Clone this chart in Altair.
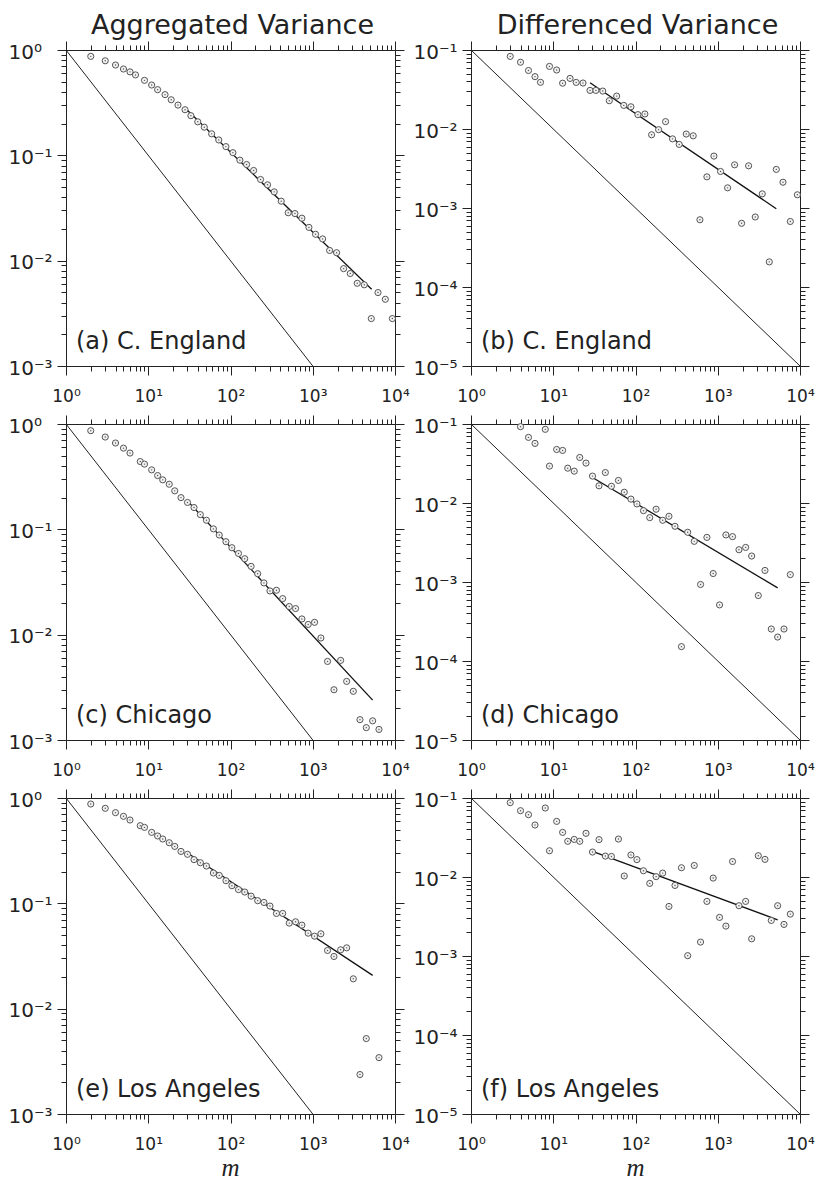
import altair as alt
import pandas as pd

# ---------------- data ----------------
# (a) C. England, aggregated variance
a_m = [2, 3, 4, 5, 6, 7, 9, 11, 13, 16, 19, 23, 28, 33, 40, 48, 59, 72, 88, 107, 130, 157, 191, 232, 282,
       340, 414, 503, 607, 738, 898, 1082, 1318, 1603, 1950, 2372, 2858, 3476, 4232, 5152, 6213, 7627, 9290]
a_v = [0.87, 0.79, 0.72, 0.66, 0.62, 0.58, 0.515, 0.465, 0.42, 0.377, 0.337, 0.30, 0.271, 0.238, 0.208,
       0.185, 0.160, 0.140, 0.121, 0.106, 0.090, 0.0818, 0.0718, 0.059, 0.0525, 0.045, 0.0367, 0.0285,
       0.028, 0.0253, 0.0207, 0.0178, 0.0161, 0.0125, 0.0119, 0.0084, 0.00755, 0.0061, 0.0059, 0.00282,
       0.00498, 0.0043, 0.00282]
a_fit_m = [28, 5200]
a_fit_v = [0.281, 0.00536]

# (b) C. England, differenced variance
b_m = [3, 4, 5, 6, 7, 9, 11, 13, 16, 19, 23, 28, 33, 40, 48, 59, 72, 88, 107, 130, 157, 191, 232, 282,
       340, 414, 503, 607, 738, 898, 1082, 1318, 1603, 1950, 2372, 2858, 3476, 4232, 5152, 6213, 7627, 9290]
b_v = [0.083, 0.070, 0.055, 0.046, 0.039, 0.062, 0.0558, 0.038, 0.0437, 0.0389, 0.0382, 0.0308, 0.0308,
       0.0302, 0.0228, 0.0261, 0.0199, 0.0191, 0.0152, 0.0155, 0.00845, 0.0098, 0.0124, 0.0075, 0.00638,
       0.00863, 0.0082, 0.00071, 0.00248, 0.00454, 0.0029, 0.0018, 0.00352, 0.00064, 0.00342, 0.00077,
       0.00151, 0.000208, 0.00308, 0.00212, 0.000675, 0.00147]
b_fit_m = [28, 5150]
b_fit_v = [0.0385, 0.00098]

# (c) Chicago, aggregated variance
c_m = [2, 3, 4, 5, 6, 8, 9, 11, 13, 15, 18, 21, 25, 30, 36, 43, 51, 62, 73, 88, 104, 125, 149, 178, 214,
       255, 302, 362, 431, 518, 618, 738, 880, 1052, 1256, 1513, 1811, 2183, 2583, 3112, 3750, 4477, 5349, 6386]
c_v = [0.864, 0.752, 0.66, 0.59, 0.53, 0.44, 0.416, 0.367, 0.324, 0.295, 0.268, 0.232, 0.2, 0.18, 0.161,
       0.138, 0.122, 0.101, 0.0883, 0.0763, 0.0669, 0.059, 0.0526, 0.0445, 0.0379, 0.031, 0.026, 0.0264,
       0.022, 0.0185, 0.0177, 0.0141, 0.0125, 0.0131, 0.0093, 0.00557, 0.003, 0.0057, 0.0036, 0.0029,
       0.00156, 0.00131, 0.00152, 0.00126]
c_fit_m = [30, 5350]
c_fit_v = [0.186, 0.00239]

# (d) Chicago, differenced variance
d_m = [4, 5, 6, 8, 9, 11, 13, 15, 18, 21, 25, 30, 36, 43, 51, 62, 73, 88, 104, 125, 149, 178, 214, 255,
       302, 362, 431, 518, 618, 738, 880, 1052, 1256, 1513, 1811, 2183, 2583, 3112, 3750, 4477, 5349, 6386, 7627]
d_v = [0.0925, 0.0677, 0.0568, 0.0856, 0.0293, 0.0476, 0.0463, 0.0276, 0.0253, 0.0377, 0.032, 0.0219,
       0.0165, 0.0243, 0.0163, 0.0193, 0.0137, 0.0112, 0.00974, 0.0080, 0.00653, 0.00834, 0.00604,
       0.00679, 0.00507, 0.000152, 0.00426, 0.00327, 0.00093, 0.00367, 0.00128, 0.000513, 0.00394,
       0.00375, 0.00256, 0.00274, 0.00213, 0.000674, 0.0014, 0.000254, 0.000201, 0.000254, 0.00124]
d_fit_m = [30, 5350]
d_fit_v = [0.021, 0.000843]

# (e) Los Angeles, aggregated variance
e_m = [2, 3, 4, 5, 6, 8, 9, 11, 13, 15, 18, 21, 25, 30, 36, 43, 51, 62, 73, 88, 104, 125, 149, 178, 214,
       255, 302, 362, 431, 518, 618, 738, 880, 1052, 1256, 1513, 1811, 2183, 2583, 3112, 3750, 4477, 6386]
e_v = [0.877, 0.798, 0.726, 0.67, 0.618, 0.546, 0.526, 0.472, 0.436, 0.408, 0.376, 0.347, 0.311, 0.292,
       0.26, 0.243, 0.226, 0.194, 0.184, 0.164, 0.147, 0.135, 0.128, 0.117, 0.106, 0.102, 0.0942, 0.0802,
       0.0802, 0.0649, 0.0668, 0.0621, 0.0521, 0.0488, 0.0514, 0.0357, 0.0313, 0.0362, 0.0378, 0.0192,
       0.00237, 0.0052, 0.00343]
e_fit_m = [30, 5350]
e_fit_v = [0.30, 0.0207]

# (f) Los Angeles, differenced variance
f_m = [3, 4, 5, 6, 8, 9, 11, 13, 15, 18, 21, 25, 30, 36, 43, 51, 62, 73, 88, 104, 125, 149, 178, 214, 255,
       302, 362, 431, 518, 618, 738, 880, 1052, 1256, 1513, 1811, 2183, 2583, 3112, 3750, 4477, 5349, 6386, 7627]
f_v = [0.0873, 0.0691, 0.0615, 0.0455, 0.0747, 0.0215, 0.0506, 0.0367, 0.0283, 0.0299, 0.0283, 0.0357,
       0.0207, 0.0297, 0.0184, 0.0182, 0.0302, 0.0103, 0.019, 0.0166, 0.012, 0.0083, 0.0101, 0.0112,
       0.00424, 0.00782, 0.0131, 0.00101, 0.014, 0.0015, 0.00491, 0.00969, 0.00308, 0.00239, 0.0157,
       0.00433, 0.00491, 0.00165, 0.0186, 0.0167, 0.00282, 0.00433, 0.00251, 0.00339]
f_fit_m = [30, 5350]
f_fit_v = [0.0211, 0.00287]

# slope -1 reference lines
agg_ref_m = [1, 1000]
agg_ref_v = [1, 0.001]
dif_ref_m = [1, 10000]
dif_ref_v = [0.1, 0.00001]

col_titles = ["Aggregated Variance", "Differenced Variance"]
panel_labels = ["(a) C. England", "(b) C. England", "(c) Chicago", "(d) Chicago",
                "(e) Los Angeles", "(f) Los Angeles"]
x_title = "m"

# tick values (1..9 x each decade)
x_ticks = [k * 10.0 ** e for e in range(0, 4) for k in range(1, 10)] + [10000.0]
agg_ticks = [k * 10.0 ** e for e in range(-3, 0) for k in range(1, 10)] + [1.0]
dif_ticks = [k * 10.0 ** e for e in range(-5, -1) for k in range(1, 10)] + [0.1]

# ---------------- styling ----------------
FONT = "DejaVu Sans"
INK = "#222222"
W, H = 329, 316
LOGV = "(log(datum.value)/LN10)"
DEC = f"abs({LOGV} - round({LOGV})) < 1e-6"
LABEL_EXPR = (f"({DEC}) ? ('10' + (round({LOGV}) < 0 ? '\u207b' : '') + "
              f"['\u2070','\u00b9','\u00b2','\u00b3','\u2074','\u2075'][abs(round({LOGV}))]) : ''")
TICK_SIZE = {"condition": {"test": DEC, "value": 9}, "value": 5}


def make_axis(orient, values, labels):
    kw = dict(orient=orient, values=values, grid=False, labels=labels,
              tickSize=TICK_SIZE, tickColor=INK, tickWidth=1,
              domainColor=INK, domainWidth=1)
    if labels:
        kw.update(labelExpr=LABEL_EXPR, labelFont=FONT, labelColor=INK,
                  labelOverlap=False, labelFlush=False, labelBound=False)
        if orient == "left":
            kw.update(labelAlign="left", labelPadding=49, labelFontSize=20, labelOffset=2)
        else:
            kw.update(labelPadding=13, labelFontSize=17)
    return alt.Axis(**kw)


def panel(m, v, fit_m, fit_v, ref_m, ref_v, yticks, ydom, label, title=None, xtitle=None):
    pts = pd.DataFrame({"m": m, "v": v})
    fit = pd.DataFrame({"m": fit_m, "v": fit_v})
    ref = pd.DataFrame({"m": ref_m, "v": ref_v})
    xs = alt.Scale(type="log", domain=[1, 10000], nice=False)
    ys = alt.Scale(type="log", domain=ydom, nice=False)

    ref_layer = alt.Chart(ref).mark_line(color=INK, strokeWidth=1).encode(
        x=alt.X("m:Q", scale=xs, axis=make_axis("bottom", x_ticks, True), title=None),
        y=alt.Y("v:Q", scale=ys, axis=make_axis("left", yticks, True), title=None),
    )
    fit_layer = alt.Chart(fit).mark_line(color="#111111", strokeWidth=1.3).encode(
        x=alt.X("m:Q", scale=xs, axis=make_axis("top", x_ticks, False), title=None),
        y=alt.Y("v:Q", scale=ys, axis=make_axis("right", yticks, False), title=None),
    )
    pts_layer = alt.Chart(pts).mark_point(
        shape="circle", size=38, filled=True, fill="#f2f2f2", stroke="#555555", strokeWidth=1, opacity=1
    ).encode(
        x=alt.X("m:Q", scale=xs, axis=None),
        y=alt.Y("v:Q", scale=ys, axis=None),
    )
    dot_layer = alt.Chart(pts).mark_point(
        shape="circle", size=2, filled=True, color="#555555", opacity=1
    ).encode(
        x=alt.X("m:Q", scale=xs, axis=None),
        y=alt.Y("v:Q", scale=ys, axis=None),
    )
    layers = [ref_layer, fit_layer, pts_layer, dot_layer]
    layers.append(alt.Chart(pd.DataFrame({"t": [label]})).mark_text(
        align="left", baseline="alphabetic", font=FONT, fontSize=24, color=INK
    ).encode(x=alt.value(10), y=alt.value(H - 17), text="t:N"))
    if title:
        layers.append(alt.Chart(pd.DataFrame({"t": [title]})).mark_text(
            align="center", baseline="top", font=FONT, fontSize=27, color=INK
        ).encode(x=alt.value(W / 2 + 2), y=alt.value(-37), text="t:N"))
    if xtitle:
        layers.append(alt.Chart(pd.DataFrame({"t": [xtitle]})).mark_text(
            align="center", baseline="alphabetic", font="Liberation Serif", fontStyle="italic",
            fontSize=25, color=INK
        ).encode(x=alt.value(W / 2), y=alt.value(H + 62), text="t:N"))

    ch = alt.layer(*layers).resolve_axis(x="independent", y="independent")
    return ch.properties(width=W, height=H)


panels = [
    panel(a_m, a_v, a_fit_m, a_fit_v, agg_ref_m, agg_ref_v, agg_ticks, [0.001, 1], panel_labels[0], title=col_titles[0]),
    panel(b_m, b_v, b_fit_m, b_fit_v, dif_ref_m, dif_ref_v, dif_ticks, [0.00001, 0.1], panel_labels[1], title=col_titles[1]),
    panel(c_m, c_v, c_fit_m, c_fit_v, agg_ref_m, agg_ref_v, agg_ticks, [0.001, 1], panel_labels[2]),
    panel(d_m, d_v, d_fit_m, d_fit_v, dif_ref_m, dif_ref_v, dif_ticks, [0.00001, 0.1], panel_labels[3]),
    panel(e_m, e_v, e_fit_m, e_fit_v, agg_ref_m, agg_ref_v, agg_ticks, [0.001, 1], panel_labels[4], xtitle=x_title),
    panel(f_m, f_v, f_fit_m, f_fit_v, dif_ref_m, dif_ref_v, dif_ticks, [0.00001, 0.1], panel_labels[5], xtitle=x_title),
]

chart = alt.concat(
    *panels, columns=2, spacing={"row": 10, "column": 3}
).properties(
    padding={"left": 0, "top": 4, "right": 0, "bottom": 0}
).configure_view(
    strokeOpacity=0
)

chart.save("out.html", embed_options={"renderer": "svg", "actions": False})
